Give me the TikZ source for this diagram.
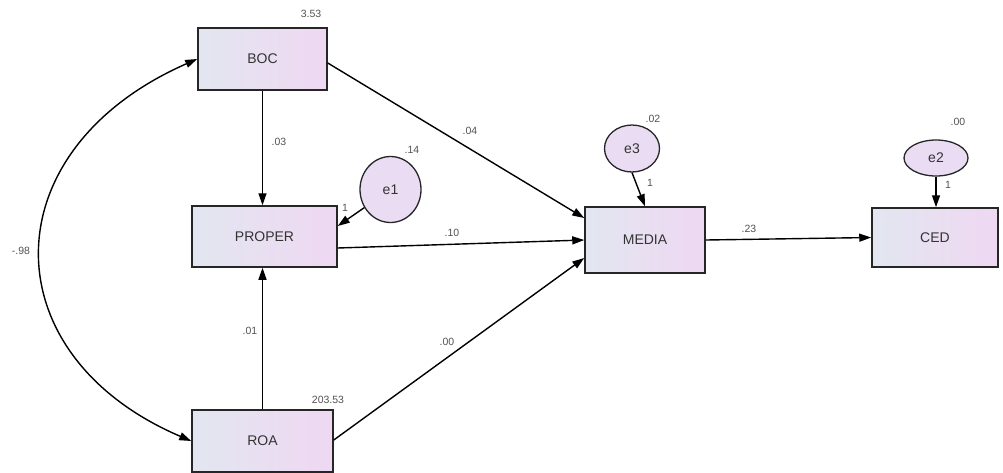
\documentclass[tikz,border=0pt]{standalone}
\usepackage{fontspec}
\setmainfont{Liberation Sans}
\usetikzlibrary{arrows.meta,shapes.geometric}
\definecolor{boxl}{HTML}{E2E6F0}
\definecolor{boxr}{HTML}{EFD8F2}
\definecolor{ellc}{HTML}{EADDF3}
\definecolor{txt}{HTML}{333333}
\tikzset{
  obs/.style={draw=black!85, line width=1.5pt, rectangle, left color=boxl, right color=boxr,
    text=txt, font=\fontsize{14}{16}\selectfont, inner sep=0pt},
  err/.style={draw=black!85, line width=1.3pt, ellipse, fill=ellc, text=txt,
    font=\fontsize{14}{16}\selectfont, inner sep=0pt},
  num/.style={text=txt!85, font=\fontsize{10.5}{12}\selectfont, inner sep=1pt},
  path/.style={line width=1.4pt, -{Triangle[length=12pt,width=8pt]}},
}
\begin{document}
\begin{tikzpicture}[x=1pt,y=-1pt]
\useasboundingbox (0,0) rectangle (1003,472);
% observed variables
\node[obs, minimum width=129pt, minimum height=62pt] (BOC) at (262.5,59) {BOC};
\node[obs, minimum width=145pt, minimum height=61pt] (PROPER) at (264.5,236.5) {PROPER};
\node[obs, minimum width=141pt, minimum height=62pt] (ROA) at (262.5,441) {ROA};
\node[obs, minimum width=120pt, minimum height=66pt] (MEDIA) at (645,240) {MEDIA};
\node[obs, minimum width=126pt, minimum height=59pt] (CED) at (935,237.5) {CED};
% error terms
\node[err, minimum width=61pt, minimum height=66pt] (e1) at (390.5,189.5) {e1};
\node[err, minimum width=55pt, minimum height=47pt] (e3) at (632,148.5) {e3};
\node[err, minimum width=64pt, minimum height=36pt] (e2) at (936,158) {e2};
% regression paths
\draw[path] (BOC.south) -- (PROPER.north -| BOC.south);
\draw[path] (ROA.north) -- (PROPER.south -| ROA.north);
\draw[path] (BOC.east |- 0,63) coordinate (b1) -- (MEDIA.west |- 0,218) coordinate (m1);
\draw[path] (PROPER.east |- 0,248) coordinate (p1) -- (MEDIA.west |- 0,240) coordinate (m2);
\draw[path] (ROA.east |- 0,440) coordinate (r1) -- (MEDIA.west |- 0,258) coordinate (m3);
\draw[path] (MEDIA.east) -- (CED.west);
\draw[path] (e1) -- (PROPER.east |- 0,226) coordinate (p2);
\draw[path] (e3.south) -- (MEDIA.north);
\draw[path] (e2.south) -- (CED.north -| e2.south);
% covariance
\draw[line width=1.4pt, {Triangle[length=12pt,width=8pt]}-{Triangle[length=12pt,width=8pt]}]
  (BOC.west) .. controls (-10,150) and (-10,355) .. (ROA.west);
% labels
\node[num] (lBOC) at (311,14) {3.53};
\node[num] (lROA) at (328,400) {203.53};
\node[num] (le1) at (412,150) {.14};
\node[num] (le3) at (653,119) {.02};
\node[num] (le2) at (958,122) {.00};
\node[num] (l1a) at (345,208) {1};
\node[num] (l1b) at (650,183) {1};
\node[num] (l1c) at (948,185) {1};
\node[num] (lbp) at (279,142) {.03};
\node[num] (lrp) at (250,331) {.01};
\node[num] (lbm) at (470,131) {.04};
\node[num] (lpm) at (452,233) {.10};
\node[num] (lrm) at (447,342) {.00};
\node[num] (lmc) at (749,229) {.23};
\node[num] (lcov) at (21,251) {-.98};
\end{tikzpicture}
\end{document}
